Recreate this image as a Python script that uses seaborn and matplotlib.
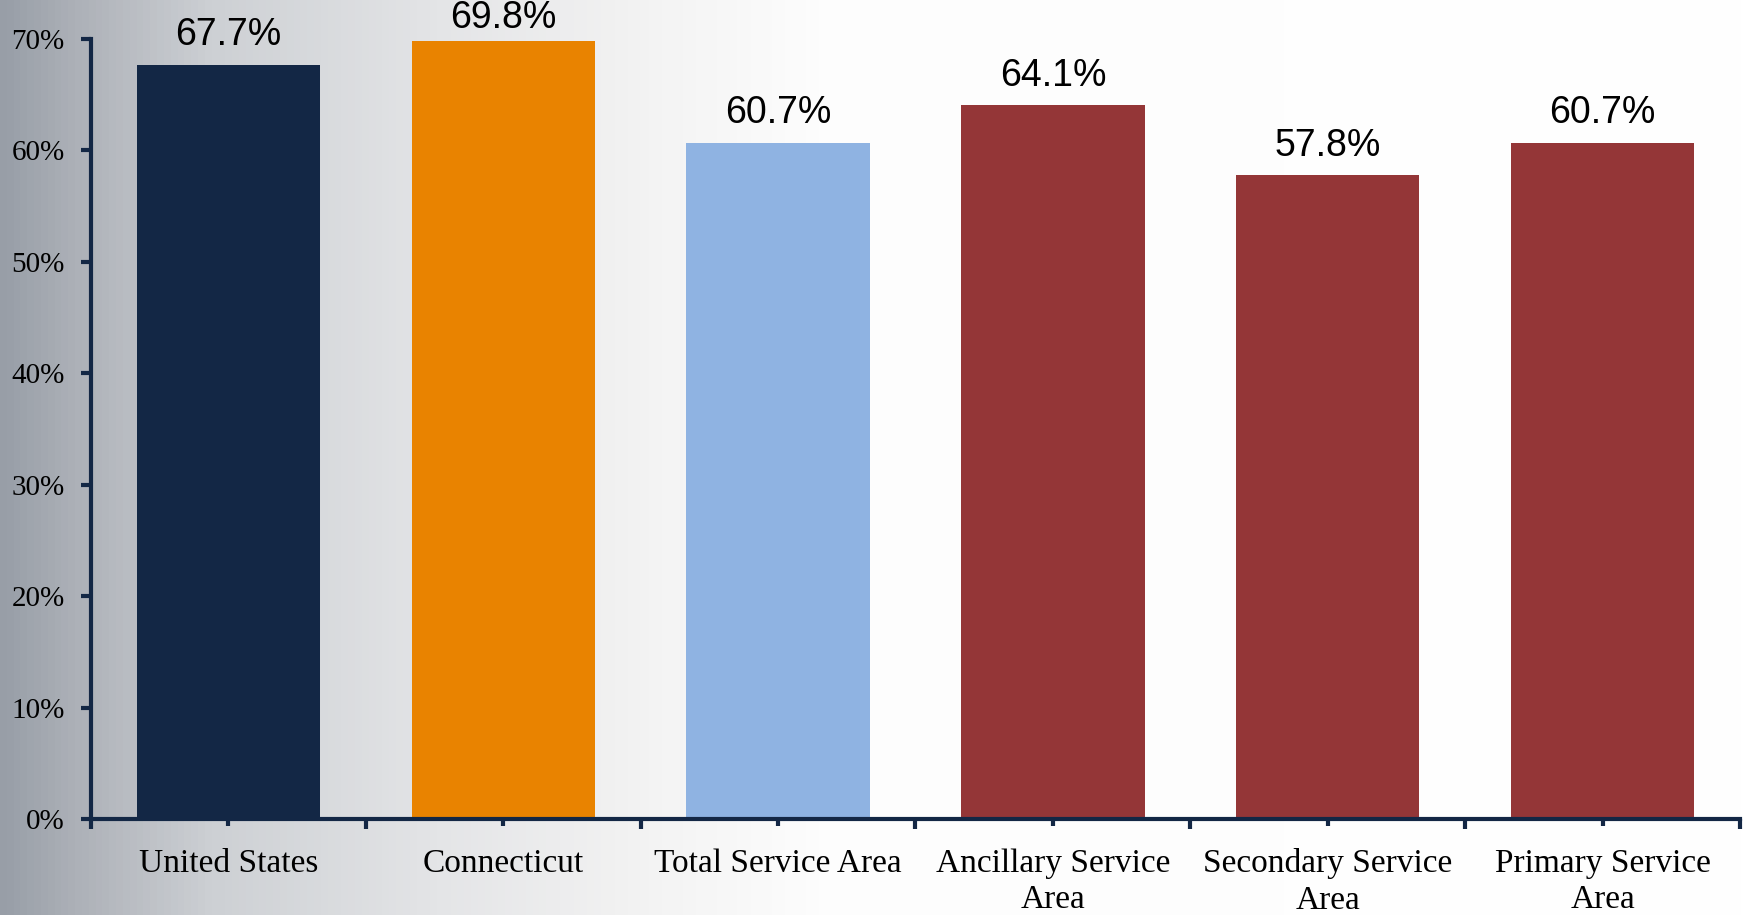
import numpy as np
import pandas as pd
import matplotlib
matplotlib.use("Agg")
import matplotlib.pyplot as plt
from matplotlib.colors import LinearSegmentedColormap
from matplotlib.ticker import FixedLocator, PercentFormatter
import seaborn as sns

# ==================================================
# Data
# ==================================================
categories = ["United States", "Connecticut", "Total Service Area",
              "Ancillary Service\nArea", "Secondary Service\nArea",
              "Primary Service\nArea"]
values = [67.7, 69.8, 60.7, 64.1, 57.8, 60.7]
bar_colors = ["#132745", "#e98300", "#8fb3e2", "#943637", "#943637", "#943637"]
ytick_values = [0, 10, 20, 30, 40, 50, 60, 70]

df = pd.DataFrame({"area": categories, "pct": values})

# ==================================================
# Settings
# ==================================================
sns.set_theme(style="white")
plt.rcParams["font.family"] = ["Liberation Serif", "DejaVu Serif"]
plt.rcParams["text.color"] = "black"

navy = "#132745"

fig = plt.figure(figsize=(17.48, 9.15), dpi=100)

# background gradient (grey on the left fading to white)
bg = fig.add_axes([0, 0, 1, 1], zorder=-10)
grad_cmap = LinearSegmentedColormap.from_list(
    "bg",
    [(0.0, "#989ea7"), (0.04, "#acb0b7"), (0.12, "#cdd0d4"),
     (0.25, "#e4e5e7"), (0.36, "#f2f2f2"), (0.47, "#fdfdfd"), (1.0, "#ffffff")]
)
bg.imshow(np.linspace(0, 1, 512)[None, :], aspect="auto", cmap=grad_cmap,
          extent=[0, 1, 0, 1])
bg.axis("off")

W, H = 1748, 915
left, right, bottom, top = 91, 1740, 819, 39
ax = fig.add_axes([left / W, 1 - bottom / H, (right - left) / W, (bottom - top) / H])
ax.patch.set_alpha(0)

sns.barplot(data=df, x="area", y="pct", hue="area", palette=bar_colors,
            legend=False, width=0.667, saturation=1, linewidth=0, ax=ax)

ax.set_xlim(-0.5, len(categories) - 0.5)
ax.set_ylim(0, 70)

# value labels (kept inside the figure, like the original does for the tallest bar)
for i, v in enumerate(values):
    ax.text(i, min(v + 1.0, 70.3), f"{v:.1f}%", ha="center", va="bottom",
            fontsize=27, family=["Liberation Sans", "DejaVu Sans"], color="black",
            clip_on=False)

# axes styling
for side in ["top", "right"]:
    ax.spines[side].set_visible(False)
for side in ["left", "bottom"]:
    ax.spines[side].set_color(navy)
    ax.spines[side].set_linewidth(3)

ax.yaxis.set_major_locator(FixedLocator(ytick_values))
ax.yaxis.set_major_formatter(PercentFormatter(decimals=0))
ax.tick_params(axis="y", which="major", direction="out", length=7, width=3,
               color=navy, labelsize=21, pad=12, left=True, labelcolor="black")

ax.xaxis.set_minor_locator(FixedLocator(np.arange(-0.5, len(categories), 1.0)))
ax.tick_params(axis="x", which="major", direction="inout", length=10, width=3,
               color=navy, labelsize=24, pad=16, bottom=True, labelcolor="black")
ax.tick_params(axis="x", which="minor", direction="out", length=7, width=3,
               color=navy, bottom=True)
for lbl in ax.get_xticklabels():
    lbl.set_linespacing(1.25)

ax.set_xlabel("")
ax.set_ylabel("")
ax.grid(False)

fig.savefig("out.png", dpi=100)
